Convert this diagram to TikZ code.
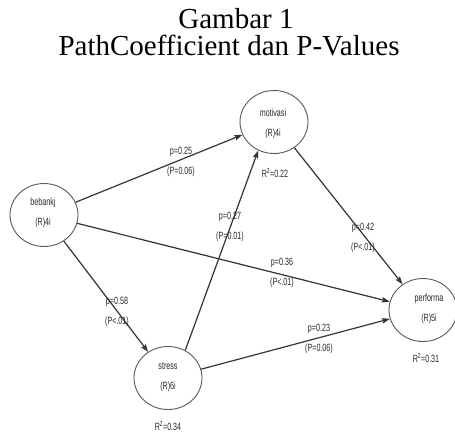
\documentclass[tikz,border=0pt]{standalone}
\usepackage{fontspec}
\setmainfont{Liberation Serif}
\newfontfamily\labfont{Liberation Sans}
\usetikzlibrary{arrows.meta,shapes.geometric}
\newcommand{\nar}[1]{\scalebox{0.68}[1]{#1}}
\tikzset{
  latent/.style={ellipse,draw=black!65,line width=0.9pt,minimum width=68pt,minimum height=63pt,inner sep=0pt},
  lab/.style={font=\labfont\fontsize{10.5}{19.5}\selectfont,text=black!85,align=center,inner sep=0pt},
  path/.style={draw=black!80,line width=1.2pt,-{Stealth[length=8pt,width=5.5pt,inset=1.5pt]}},
  ttl/.style={font=\fontsize{29}{29}\selectfont,inner sep=0pt,anchor=base}
}
\begin{document}
\begin{tikzpicture}[x=1pt,y=-1pt]
\useasboundingbox (0,0) rectangle (455,432);
\node[ttl] (t1) at (236,28) {Gambar 1};
\node[ttl] (t2) at (229,55) {PathCoefficient dan P-Values};
% latent variables
\node[latent] (beban) at (44,215) {};
\node[latent] (motiv) at (274,122) {};
\node[latent] (stress) at (168,378) {};
\node[latent] (perf) at (423,310) {};
\node[lab] (tb) at (43,213) {\nar{bebankj}\\\nar{(R)4i}};
\node[lab] (tm) at (273,124) {\nar{motivasi}\\\nar{(R)4i}};
\node[lab] (ts) at (168,377) {\nar{stress}\\\nar{(R)6i}};
\node[lab] (tp) at (429,309) {\nar{performa}\\\nar{(R)5i}};
% R squared
\node[lab] (rm) at (275,173) {\nar{R\textsuperscript{2}=0.22}};
\node[lab] (rs) at (168,426) {\nar{R\textsuperscript{2}=0.34}};
\node[lab] (rp) at (426,358) {\nar{R\textsuperscript{2}=0.31}};
% paths
\draw[path] (beban) -- (motiv);
\draw[path] (beban) -- (perf);
\draw[path] (beban) -- (stress);
\draw[path] (stress.58) -- (motiv.241);
\draw[path] (motiv) -- (perf);
\draw[path] (stress) -- (perf);
% path labels
\node[lab] (l1) at (181,162) {\nar{p=0.25}\\\nar{(P=0.06)}};
\node[lab] (l2) at (230,227) {\nar{p=0.27}\\\nar{(P=0.01)}};
\node[lab] (l3) at (282,273) {\nar{p=0.36}\\\nar{(P<.01)}};
\node[lab] (l4) at (363,238) {\nar{p=0.42}\\\nar{(P<.01)}};
\node[lab] (l5) at (117,312) {\nar{p=0.58}\\\nar{(P<.01)}};
\node[lab] (l6) at (319,339) {\nar{p=0.23}\\\nar{(P=0.06)}};
\end{tikzpicture}
\end{document}
